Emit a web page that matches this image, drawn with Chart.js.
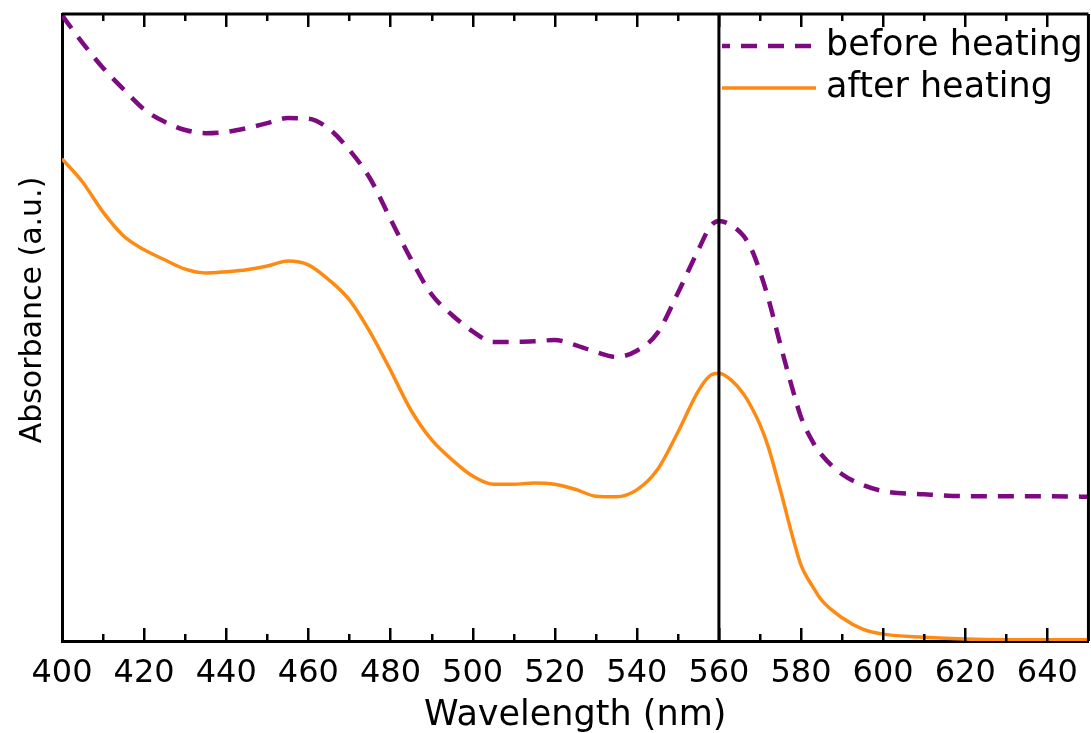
<!DOCTYPE html>
<html>
<head>
<meta charset="utf-8">
<script src="https://cdn.jsdelivr.net/npm/chart.js@4/dist/chart.umd.min.js"></script>
<style>
  html, body { margin: 0; padding: 0; background: #fff; }
  #wrap { width: 1091px; height: 733px; position: relative; }
</style>
</head>
<body>
<div id="wrap"><canvas id="chart"></canvas></div>
<script>
// wavelength (nm)
const wavelengths = [400, 405, 410, 415, 420, 425, 430, 435, 440, 445, 450, 455, 460, 465, 470, 475,
  480, 485, 490, 495, 500, 505, 510, 515, 520, 525, 530, 535, 540, 545, 550, 555, 558, 560, 563, 566,
  568, 570, 572, 575, 578, 580, 583, 585, 590, 595, 600, 610, 620, 630, 640, 650];

// absorbance (a.u.)
const beforeHeating = [0.998, 0.954, 0.914, 0.880, 0.848, 0.828, 0.815, 0.810, 0.812, 0.818, 0.826, 0.834,
  0.833, 0.817, 0.783, 0.738, 0.673, 0.609, 0.553, 0.520, 0.494, 0.477, 0.477, 0.478, 0.480, 0.472,
  0.461, 0.453, 0.463, 0.491, 0.555, 0.624, 0.662, 0.670, 0.663, 0.646, 0.624, 0.589, 0.547, 0.472,
  0.400, 0.357, 0.316, 0.297, 0.266, 0.249, 0.239, 0.234, 0.231, 0.231, 0.231, 0.230];

const afterHeating = [0.769, 0.732, 0.684, 0.646, 0.624, 0.608, 0.593, 0.587, 0.589, 0.592, 0.598, 0.606,
  0.600, 0.576, 0.544, 0.493, 0.432, 0.368, 0.321, 0.289, 0.263, 0.250, 0.250, 0.252, 0.250, 0.242,
  0.231, 0.230, 0.241, 0.273, 0.333, 0.399, 0.424, 0.427, 0.416, 0.394, 0.372, 0.345, 0.310, 0.240,
  0.165, 0.121, 0.085, 0.065, 0.037, 0.019, 0.011, 0.006, 0.003, 0.002, 0.002, 0.002];

const markerLine = 560;
const xTickValues = [400, 410, 420, 430, 440, 450, 460, 470, 480, 490, 500, 510, 520, 530, 540,
  550, 560, 570, 580, 590, 600, 610, 620, 630, 640];
const seriesNames = ['before heating', 'after heating'];
const yTitle = 'Absorbance (a.u.)';

const FONT = 'DejaVu Sans';
const purple = '#7d0a80';
const orange = '#ff8a12';

const toPoints = vals => wavelengths.map((w, i) => ({ x: w, y: vals[i] }));

// frame, inward ticks, y title and legend
const framePlugin = {
  id: 'frame',
  afterDraw(chart) {
    const ctx = chart.ctx, a = chart.chartArea, xs = chart.scales.x;
    ctx.save();
    ctx.setLineDash([]);
    ctx.strokeStyle = '#000';
    ctx.lineWidth = 3;
    ctx.beginPath();
    ctx.moveTo(a.left, a.top); ctx.lineTo(a.right, a.top);
    ctx.moveTo(a.right, a.top); ctx.lineTo(a.right, a.bottom);
    ctx.stroke();

    // inward tick marks, bottom and top
    ctx.fillStyle = '#000';
    for (const v of xTickValues) {
      if (v === 400) continue;
      const px = Math.round(xs.getPixelForValue(v));
      const len = v % 20 === 0 ? 13 : 7;
      ctx.fillRect(px - 1, a.bottom - len, 2.5, len);
      ctx.fillRect(px - 1, a.top, 2.5, len);
    }

    // y axis title
    ctx.save();
    ctx.translate(33, 310);
    ctx.rotate(-Math.PI / 2);
    ctx.fillStyle = '#000';
    ctx.font = '30px "' + FONT + '"';
    ctx.textAlign = 'center';
    ctx.textBaseline = 'middle';
    ctx.fillText(yTitle, 0, 0);
    ctx.restore();

    // legend
    const ds = chart.data.datasets;
    const rows = [{ d: ds[1], y: 46 }, { d: ds[2], y: 88 }];
    rows.forEach(r => {
      ctx.strokeStyle = r.d.borderColor;
      ctx.lineWidth = r.d.borderWidth;
      ctx.setLineDash(r.d.borderDash || []);
      ctx.lineDashOffset = r.d.borderDash ? 8 : 0;
      ctx.beginPath();
      ctx.moveTo(722, r.y); ctx.lineTo(816, r.y);
      ctx.stroke();
      ctx.setLineDash([]);
      ctx.fillStyle = '#000';
      ctx.font = '35px "' + FONT + '"';
      ctx.textAlign = 'left';
      ctx.textBaseline = 'middle';
      ctx.fillText(r.d.label, 826, r.y);
    });
    ctx.restore();
  }
};

new Chart(document.getElementById('chart'), {
  type: 'line',
  data: {
    datasets: [
      {
        label: 'marker',
        data: [{ x: markerLine, y: 0 }, { x: markerLine, y: 1 }],
        borderColor: '#000',
        borderWidth: 3,
        pointRadius: 0
      },
      {
        label: seriesNames[0],
        data: toPoints(beforeHeating),
        borderColor: purple,
        borderWidth: 4.5,
        borderDash: [16, 11],
        pointRadius: 0,
        cubicInterpolationMode: 'monotone'
      },
      {
        label: seriesNames[1],
        data: toPoints(afterHeating),
        borderColor: orange,
        borderWidth: 3.5,
        pointRadius: 0,
        cubicInterpolationMode: 'monotone'
      }
    ]
  },
  options: {
    responsive: true,
    maintainAspectRatio: false,
    animation: false,
    layout: { padding: { top: 14, right: 2, left: 0, bottom: 0 } },
    plugins: { legend: { display: false }, tooltip: { enabled: false } },
    scales: {
      x: {
        type: 'linear',
        min: 400,
        max: 650,
        afterBuildTicks: scale => {
          scale.ticks = xTickValues.filter(v => v % 20 === 0).map(v => ({ value: v }));
        },
        afterFit: scale => { scale.height = 92; },
        grid: { display: false, drawTicks: false },
        border: { display: true, color: '#000', width: 3 },
        ticks: {
          color: '#000',
          padding: 13,
          maxRotation: 0,
          autoSkip: false,
          font: { family: FONT, size: 32 }
        },
        title: {
          display: true,
          text: 'Wavelength (nm)',
          color: '#000',
          padding: { top: 0, bottom: 0 },
          font: { family: FONT, size: 35, lineHeight: 1.0 }
        }
      },
      y: {
        min: 0,
        max: 1,
        afterFit: scale => { scale.width = 62; },
        grid: { display: false, drawTicks: false },
        border: { display: true, color: '#000', width: 3 },
        ticks: { display: false }
      }
    }
  },
  plugins: [framePlugin]
});
</script>
</body>
</html>
